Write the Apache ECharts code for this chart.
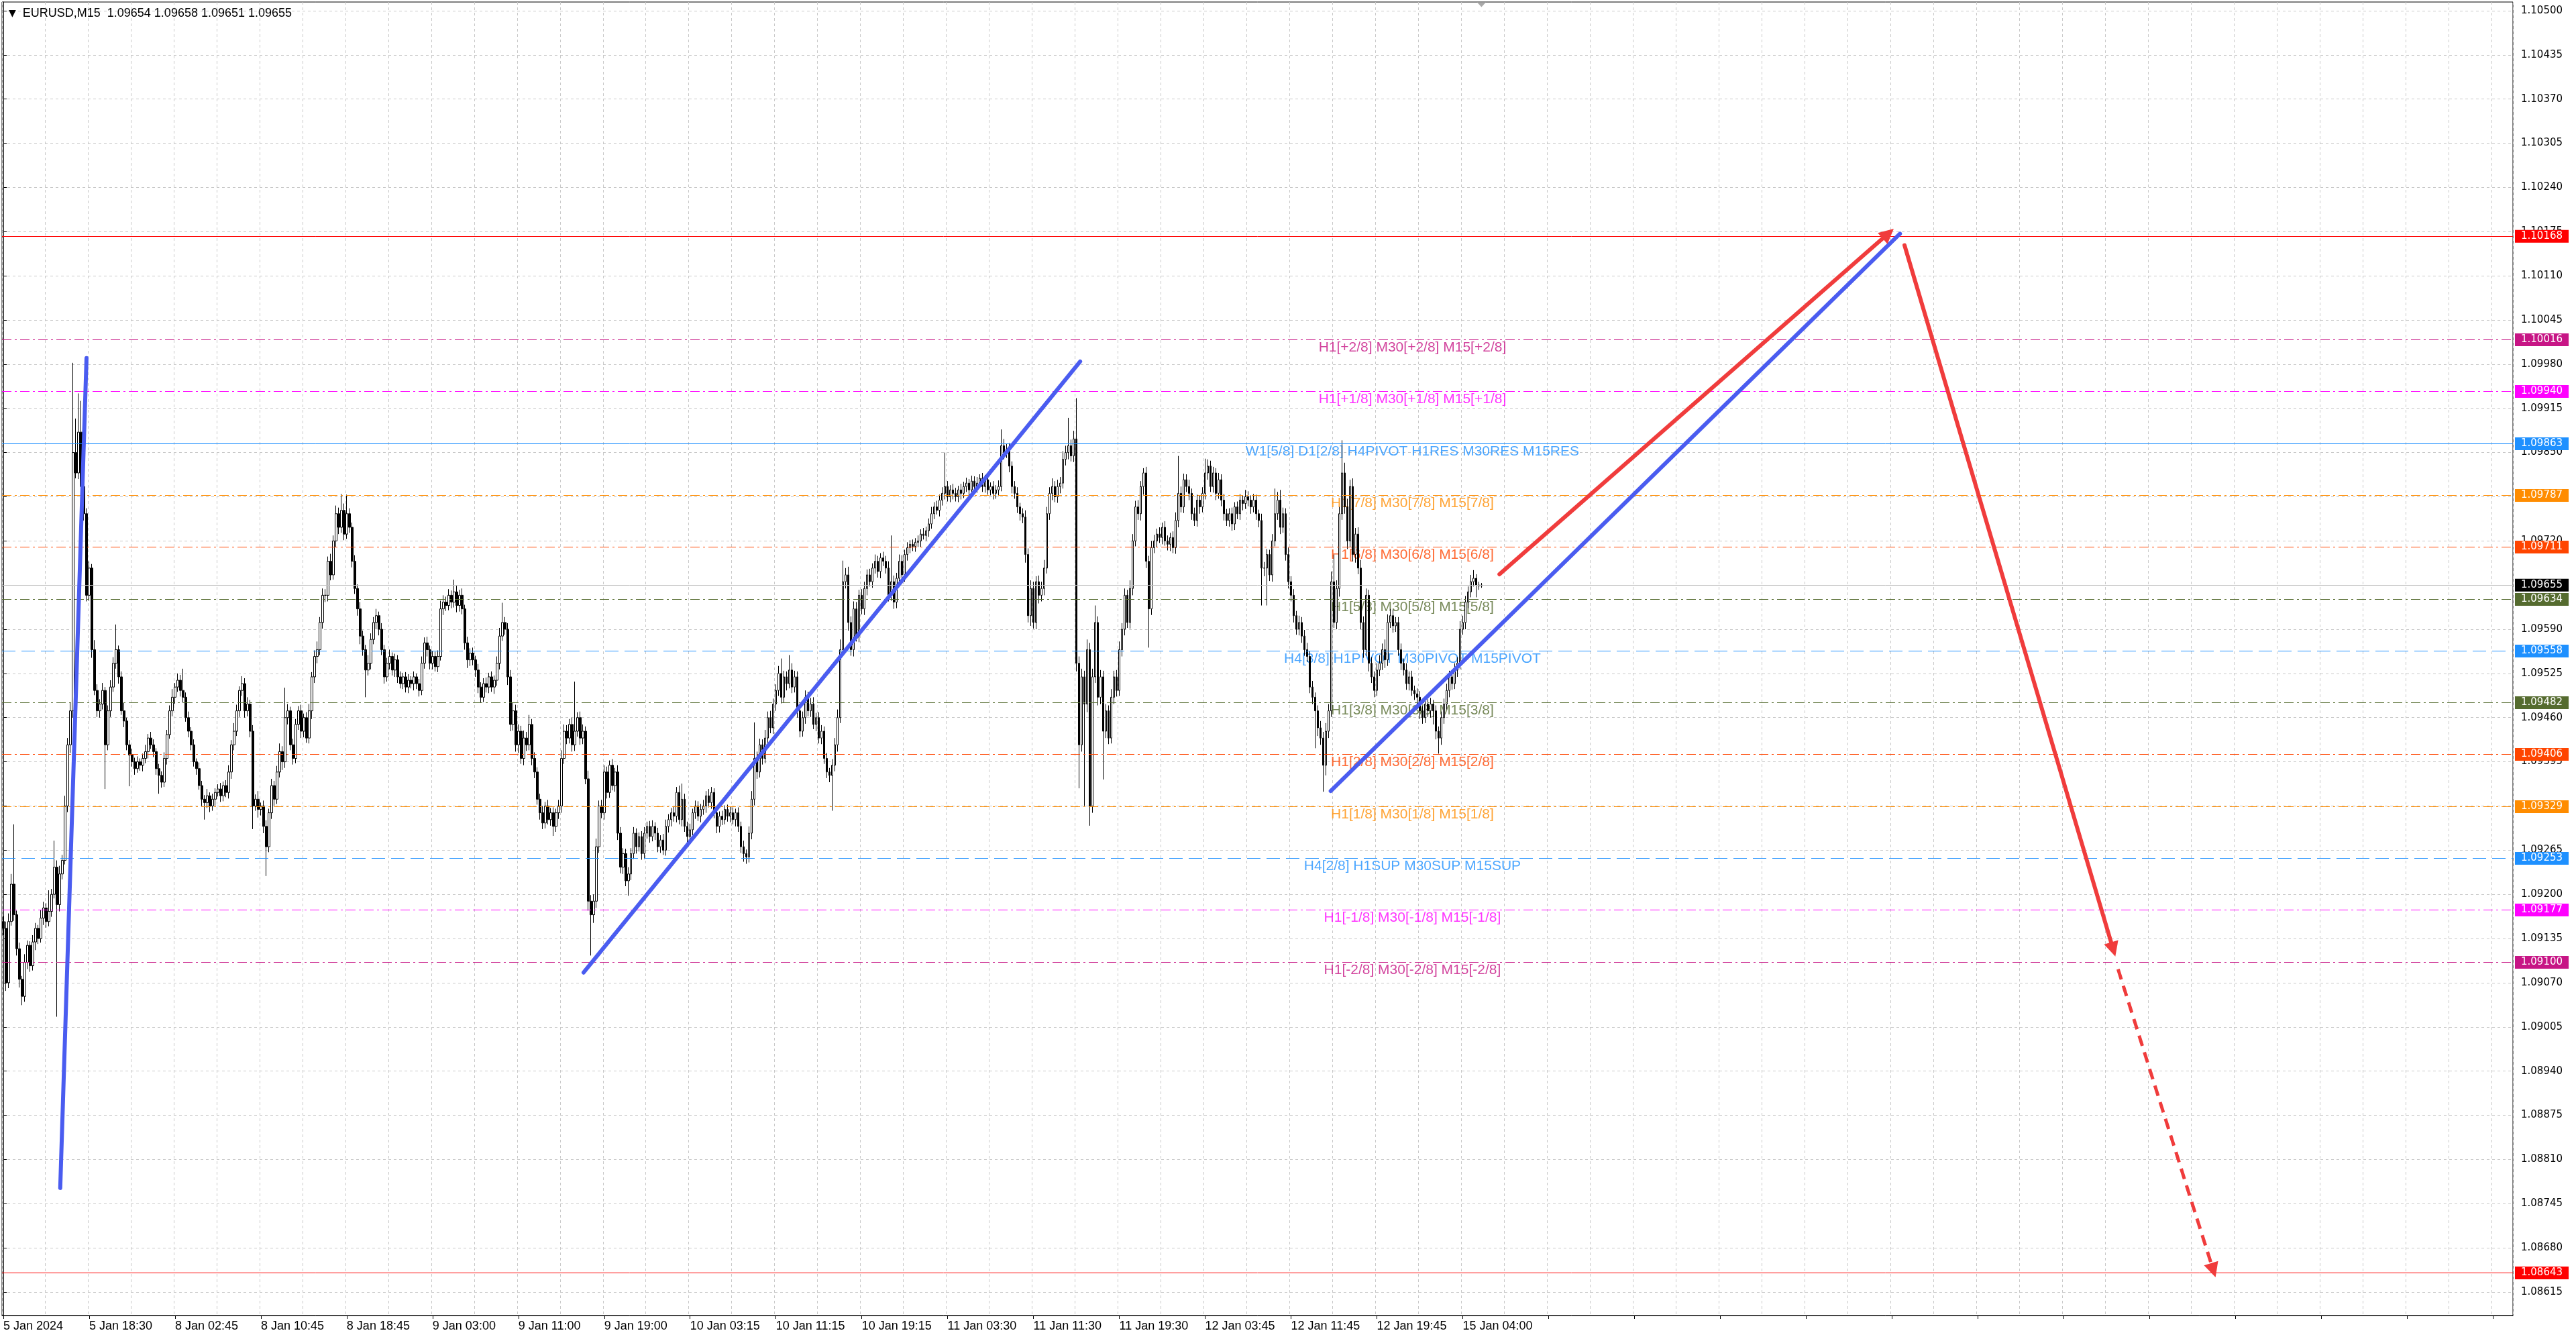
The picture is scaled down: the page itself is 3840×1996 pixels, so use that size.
<!DOCTYPE html>
<html><head><meta charset="utf-8">
<script src="https://cdn.jsdelivr.net/npm/echarts@6.0.0/dist/echarts.min.js"></script>
<style>html,body{margin:0;padding:0;background:#fff}#c{width:3840px;height:1996px}</style>
</head><body><div id="c"></div><script>
// ---------------- DATA ----------------
const symbolName = 'EURUSD,M15';
const timeLabels = ['5 Jan 2024','5 Jan 18:30','8 Jan 02:45','8 Jan 10:45','8 Jan 18:45','9 Jan 03:00','9 Jan 11:00','9 Jan 19:00','10 Jan 03:15','10 Jan 11:15','10 Jan 19:15','11 Jan 03:30','11 Jan 11:30','11 Jan 19:30','12 Jan 03:45','12 Jan 11:45','12 Jan 19:45','15 Jan 04:00'];
const barsPerLabel = 32;
const totalSlots = 936;           // bars + empty future space
const basePrice = 1.09;           // points below are in 1e-5 from basePrice
const firstOpen = 160;
const closePts = [
150,70,160,215,170,120,75,50,100,125,
95,130,150,135,165,180,160,175,200,240,
185,230,250,330,420,470,850,820,880,800,
760,640,680,560,500,470,480,500,420,470,
505,540,560,520,470,455,420,405,395,385,
395,390,400,410,430,420,410,385,375,365,
400,435,470,490,505,515,500,490,460,440,
420,395,385,360,340,335,345,330,340,350,
355,345,360,350,380,420,440,470,500,510,
470,480,440,330,340,325,330,300,270,320,
360,340,380,410,395,460,470,420,400,450,
470,440,460,430,470,520,550,560,600,640,
640,690,670,720,760,740,765,730,760,740,
690,650,620,580,560,530,540,575,600,610,
590,560,520,540,550,530,545,520,510,520,
505,515,510,520,510,500,540,570,560,540,
550,535,550,620,630,625,640,630,645,625,
640,620,570,545,555,545,530,505,490,510,
505,520,505,515,540,580,600,590,520,450,
470,420,440,400,430,420,450,400,380,340,
320,305,330,310,320,300,320,330,400,440,
430,450,420,440,460,430,440,370,190,170,
190,270,330,320,380,350,390,360,380,290,
240,260,220,230,260,290,270,285,260,290,
300,285,300,290,270,280,265,300,310,320,
315,350,310,340,300,285,295,320,330,315,
325,330,345,335,350,320,300,315,310,325,
315,320,310,320,300,270,260,255,290,340,
400,380,420,400,430,460,445,480,500,525,
490,520,510,530,505,520,470,440,460,490,
470,480,450,460,430,440,400,380,375,390,
420,460,560,660,670,600,560,620,580,640,
620,650,670,660,680,690,675,695,690,680,
640,660,630,665,690,670,700,710,715,712,
718,720,730,728,735,745,760,770,765,780,
790,800,785,795,790,785,795,790,800,805,
795,808,800,805,812,800,810,795,800,790,
795,800,860,850,855,830,800,790,770,760,
755,700,610,650,600,660,640,650,680,760,
790,800,785,800,805,840,850,860,845,870,
540,420,520,480,560,330,520,600,490,520,
440,470,430,490,520,500,560,590,640,600,
650,720,770,760,800,820,690,620,710,720,
730,725,740,720,715,725,710,750,790,770,
810,800,790,760,750,780,770,790,820,830,
800,820,790,810,780,760,750,760,745,770,
760,780,775,785,780,770,780,760,750,680,
680,700,670,720,760,780,740,760,700,660,
640,610,590,600,580,560,550,505,490,470,
445,430,390,440,470,660,600,650,760,820,
770,720,800,700,730,680,600,560,640,540,
520,500,530,540,560,545,600,610,595,600,
560,540,530,510,520,500,495,490,470,460,
480,470,480,470,440,430,460,480,500,520,
510,530,540,590,600,630,645,660,665,655,
654,655];
const upperWick = [
8,10,12,15,88,6,9,5,12,7,
6,10,8,5,12,9,7,31,8,39,
10,12,8,15,10,12,132,50,57,46,
12,8,10,6,14,9,7,11,5,8,
10,9,37,6,8,12,5,7,9,6,
8,5,7,10,6,9,8,5,7,6,
9,7,8,12,6,10,8,32,7,9,
6,8,5,9,7,6,10,5,8,6,
7,9,6,8,10,7,12,9,6,11,
8,10,6,9,7,12,5,8,9,6,
10,7,9,12,8,44,10,6,9,8,
7,9,6,8,10,7,9,12,8,10,
9,7,11,8,12,9,24,10,28,8,
7,9,6,10,8,7,12,9,8,10,
6,9,7,8,10,6,9,7,8,6,
7,9,6,8,5,7,10,8,9,6,
8,7,9,12,10,8,9,7,18,9,
8,10,6,9,7,8,6,9,7,8,
9,6,8,7,10,12,29,8,9,10,
12,9,10,8,11,9,14,8,9,7,
8,10,6,9,7,8,6,9,12,10,
9,8,10,73,8,9,10,7,12,9,
10,12,8,9,10,8,7,9,6,10,
9,8,7,10,8,9,7,6,8,9,
7,8,9,6,8,7,9,10,8,7,
9,8,10,23,8,7,9,6,8,7,
8,9,7,10,8,6,9,7,8,6,
7,9,8,6,8,7,9,6,10,12,
53,10,9,8,12,9,10,8,9,11,
22,9,8,22,10,9,8,7,9,10,
8,9,10,7,8,9,7,8,6,9,
10,12,15,31,10,12,9,11,10,8,
9,10,8,9,7,10,8,7,9,8,
10,68,9,8,10,9,7,8,6,7,
6,8,7,9,6,8,10,7,9,8,
9,50,8,7,9,8,6,9,7,8,
6,8,7,9,6,8,7,9,6,8,
7,9,24,10,8,9,7,8,9,6,
8,10,9,12,10,8,9,10,12,10,
9,12,8,10,9,12,10,41,9,12,
60,10,12,9,15,10,12,25,9,10,
9,10,8,12,9,10,12,9,10,8,
12,10,9,10,8,7,9,8,10,9,
8,10,7,9,8,7,9,12,55,10,
9,8,10,7,9,8,7,9,21,10,
8,9,7,10,8,9,7,8,9,7,
8,9,7,10,8,7,9,8,6,10,
9,8,7,10,37,12,15,9,8,10,
8,9,7,10,8,9,10,8,9,7,
8,10,9,12,10,15,40,12,10,48,
15,12,10,12,9,10,12,9,10,8,
9,8,10,12,9,15,12,10,9,8,
8,9,7,10,8,9,7,8,9,7,
8,7,9,6,8,7,9,8,10,9,
8,10,9,12,10,9,8,10,12,6,
5,3];
const lowerWick = [
10,12,8,6,9,10,12,13,8,10,
9,7,12,8,6,10,9,7,8,6,
165,10,8,6,9,12,10,8,9,12,
10,9,8,12,7,9,10,8,65,8,
9,7,8,10,6,9,8,46,7,9,
6,8,9,7,10,6,8,9,27,8,
7,9,6,8,10,7,9,8,6,9,
8,7,9,6,10,25,8,9,7,10,
6,9,8,7,9,10,8,7,9,8,
10,8,9,34,7,12,9,10,43,8,
9,10,7,8,12,9,10,8,9,7,
8,10,9,7,8,12,9,10,8,9,
10,9,8,7,9,10,8,9,7,8,
9,8,10,12,9,40,8,9,7,10,
9,8,10,7,9,8,10,9,7,8,
8,9,7,10,8,9,7,8,10,9,
9,7,8,6,9,8,7,9,8,10,
9,8,10,12,9,8,10,9,8,7,
8,9,7,10,8,9,7,8,12,10,
9,10,12,8,10,9,8,10,9,8,
10,9,8,7,9,14,8,9,10,8,
9,8,10,9,8,10,9,8,14,60,
12,10,9,8,10,9,8,7,9,10,
9,10,8,22,9,8,10,7,9,8,
8,9,7,10,8,9,7,8,9,10,
8,9,7,10,8,9,7,8,9,7,
9,8,10,7,9,8,10,9,8,7,
8,9,7,10,8,9,12,10,8,9,
9,10,8,9,7,10,8,9,10,8,
9,8,10,7,9,8,10,9,8,9,
8,9,7,10,8,9,8,9,10,52,
9,10,8,9,10,12,9,10,8,9,
8,9,10,7,9,8,9,10,7,8,
9,8,10,9,7,8,10,9,8,7,
8,7,9,6,8,9,7,8,6,9,
8,9,7,8,9,7,8,9,7,8,
9,7,8,9,7,8,9,7,8,9,
8,9,7,10,8,9,10,8,9,10,
9,12,10,15,9,10,12,9,10,8,
9,10,8,9,10,8,9,10,8,9,
12,64,10,150,12,29,10,9,12,10,
71,10,9,8,10,9,8,10,9,8,
9,10,8,9,10,12,10,57,9,8,
9,8,10,7,9,10,8,9,10,8,
9,8,10,9,8,9,10,8,9,10,
8,9,10,8,9,10,8,9,10,9,
8,9,10,8,9,10,8,9,10,55,
12,55,9,10,8,9,10,8,9,10,
9,10,8,9,10,9,8,9,10,55,
12,10,39,15,10,9,8,10,12,9,
10,12,9,10,12,9,10,12,9,12,
9,10,8,9,10,12,9,8,10,9,
9,10,8,9,10,8,9,10,12,9,
8,9,10,20,12,23,10,9,8,10,
9,8,10,9,8,10,9,8,7,18,
6,3];
const priceTicks = [1.10500,1.10435,1.10370,1.10305,1.10240,1.10175,1.10110,1.10045,1.09980,1.09915,1.09850,1.09785,1.09720,1.09655,1.09590,1.09525,1.09460,1.09395,1.09330,1.09265,1.09200,1.09135,1.09070,1.09005,1.08940,1.08875,1.08810,1.08745,1.08680,1.08615];
const levelPrices = [1.10168,1.10016,1.09940,1.09863,1.09787,1.09711,1.09655,1.09634,1.09558,1.09482,1.09406,1.09329,1.09253,1.09177,1.09100,1.08643];
const levelTexts = ['','H1[+2/8] M30[+2/8] M15[+2/8]','H1[+1/8] M30[+1/8] M15[+1/8]','W1[5/8] D1[2/8] H4PIVOT H1RES M30RES M15RES','H1[7/8] M30[7/8] M15[7/8]','H1[6/8] M30[6/8] M15[6/8]','','H1[5/8] M30[5/8] M15[5/8]','H4[3/8] H1PIVOT M30PIVOT M15PIVOT','H1[3/8] M30[3/8] M15[3/8]','H1[2/8] M30[2/8] M15[2/8]','H1[1/8] M30[1/8] M15[1/8]','H4[2/8] H1SUP M30SUP M15SUP','H1[-1/8] M30[-1/8] M15[-1/8]','H1[-2/8] M30[-2/8] M15[-2/8]',''];
const levelTextBar = 525.25;
// trend lines: [barIndex, price]
const blueLines = [
  [[21.2,1.08768],[31.0,1.09989]],
  [[216.3,1.09085],[401.4,1.09984]],
  [[494.8,1.09352],[707.0,1.10172]]
];
const redArrows = [
  [[557.7,1.09671],[702.6,1.10172]],
  [[708.7,1.10155],[786.5,1.09119]]
];
const redDashedArrows = [
  [[788.3,1.09090],[823.8,1.08647]]
];

// ---------------- STYLES ----------------
const DD = [14,5,3,5];
const levelStyles = [
  {c:'#ff0000',t:'solid'},{c:'#c71585',t:DD},{c:'#ff00ff',t:DD},{c:'#1e90ff',t:'solid'},
  {c:'#ff8c00',t:DD},{c:'#ff4500',t:DD},{c:'#c0c0c0',t:'solid',box:'#000000'},{c:'#556b2f',t:DD},
  {c:'#1e90ff',t:[20,9]},{c:'#556b2f',t:DD},{c:'#ff4500',t:DD},{c:'#ff8c00',t:DD},
  {c:'#1e90ff',t:[20,9]},{c:'#ff00ff',t:DD},{c:'#c71585',t:DD},{c:'#ff0000',t:'solid'}
];

// ---------------- BUILD ----------------
const px = v => +(basePrice + v/1e5).toFixed(5);
const cats = [];
for (let i=0;i<totalSlots;i++){
  const k = i/barsPerLabel;
  cats.push(i%barsPerLabel===0 && k<timeLabels.length ? timeLabels[k] : '');
}
const ohlc = closePts.map((c,i)=>{
  const o = i===0 ? firstOpen : closePts[i-1];
  const hi = Math.max(o,c) + (upperWick[i]||0);
  const lo = Math.min(o,c) - (lowerWick[i]||0);
  return [px(o),px(c),px(lo),px(hi)];
});
const last = ohlc[ohlc.length-1];
const header = symbolName + '  ' + [last[0],last[3],last[2],last[1]].map(v=>v.toFixed(5)).join(' ');

const levelLines = levelPrices.map((p,i)=>({
  yAxis:p,
  lineStyle:{color:levelStyles[i].c,type:levelStyles[i].t,width:1},
  label:{show:true,position:'end',distance:3,formatter:p.toFixed(5),
    backgroundColor:levelStyles[i].box||levelStyles[i].c,color:'#fff',
    padding:[2,9,2,9],fontFamily:'DejaVu Sans',fontSize:15}
}));

const chart = echarts.init(document.getElementById('c'), null, {renderer:'canvas'});
chart.setOption({
  animation:false,
  backgroundColor:'#ffffff',
  title:{
    text:'{t|▼}  ' + header, left:8, top:6,
    textStyle:{fontFamily:'Liberation Sans',fontSize:18,fontWeight:'normal',color:'#000',
      rich:{t:{fontFamily:'DejaVu Sans',fontSize:14,color:'#000'}}}
  },
  grid:{left:3,right:94,top:3,bottom:35,show:true,borderColor:'#000',borderWidth:1,backgroundColor:'#fff'},
  xAxis:[{
    type:'category', data:cats, boundaryGap:true,
    axisLine:{show:true,lineStyle:{color:'#000',width:1}},
    axisTick:{show:true,interval:barsPerLabel-1,alignWithLabel:true,length:5,lineStyle:{color:'#000'}},
    axisLabel:{interval:barsPerLabel-1,align:'left',color:'#000',fontFamily:'Liberation Sans',fontSize:18,margin:7},
    splitLine:{show:true,interval:15,lineStyle:{color:'#c8c8c8',type:[4,4],width:1}}
  },{
    type:'value', min:-0.5, max:totalSlots-0.5, show:false
  }],
  yAxis:{
    type:'value', position:'right', min:1.085804, max:1.105128, scale:true,
    axisLine:{show:true,lineStyle:{color:'#000',width:1}},
    axisTick:{show:true,length:5,customValues:priceTicks,lineStyle:{color:'#000'}},
    axisLabel:{customValues:priceTicks,formatter:v=>(+v).toFixed(5),color:'#000',fontFamily:'DejaVu Sans',fontSize:15,margin:12},
    splitLine:{show:true,lineStyle:{color:'#c8c8c8',type:[4,4],width:1}}
  },
  series:[
    {
      type:'scatter', xAxisIndex:1, yAxisIndex:0, symbolSize:0, z:1, silent:true,
      data: levelPrices.map((p,i)=>levelTexts[i] ? {value:[levelTextBar,p],label:{show:true,position:'bottom',distance:1,formatter:levelTexts[i],color:levelStyles[i].c,fontFamily:'Liberation Sans',fontSize:21}} : null).filter(Boolean)
    },
    {
      type:'candlestick', xAxisIndex:0, yAxisIndex:0, data:ohlc, z:2, barWidth:3,
      itemStyle:{color:'#ffffff',color0:'#000000',borderColor:'#000000',borderColor0:'#000000',borderWidth:1},
      markLine:{
        silent:true, symbol:['none','none'], z:3, precision:5,
        data: levelLines,
        emphasis:{disabled:true}
      },
      markPoint:{
        silent:true,
        data:[{coord:[closePts.length-1, 1.105128], symbol:'triangle', symbolRotate:180, symbolSize:[13,7], symbolOffset:[0,4], itemStyle:{color:'#a9a9a9'}, label:{show:false}}]
      }
    },
    {
      type:'lines', coordinateSystem:'cartesian2d', xAxisIndex:1, yAxisIndex:0, z:5, silent:true,
      symbol:['none','none'],
      lineStyle:{color:'#4a5cf0',width:6,cap:'round',opacity:1,curveness:0},
      data: blueLines.map(c=>({coords:c}))
    },
    {
      type:'lines', coordinateSystem:'cartesian2d', xAxisIndex:1, yAxisIndex:0, z:6, silent:true,
      symbol:['none','triangle'], symbolSize:22,
      lineStyle:{color:'#f03c3c',width:6,cap:'round',opacity:1,curveness:0},
      data: redArrows.map(c=>({coords:c}))
    },
    {
      type:'lines', coordinateSystem:'cartesian2d', xAxisIndex:1, yAxisIndex:0, z:6, silent:true,
      symbol:['none','triangle'], symbolSize:22,
      lineStyle:{color:'#f03c3c',width:5,type:[16,10],opacity:1,curveness:0},
      data: redDashedArrows.map(c=>({coords:c}))
    }
  ]
});
</script></body></html>
